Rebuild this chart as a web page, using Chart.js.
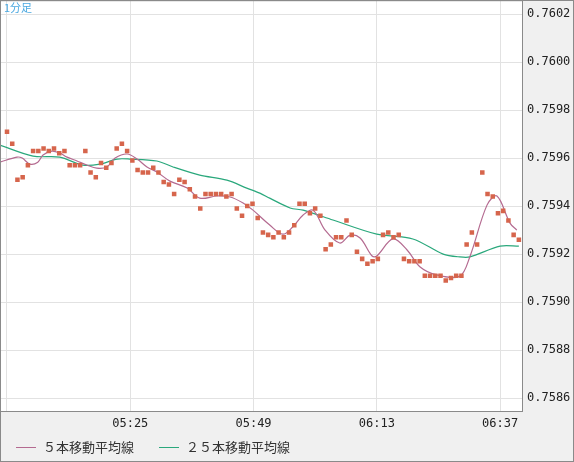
<!DOCTYPE html>
<html>
<head>
<meta charset="utf-8">
<script src="https://cdn.jsdelivr.net/npm/chart.js"></script>
<style>
  body { margin: 0; background: #f0f0f0; }
  #wrap { width: 574px; height: 462px; overflow: hidden; position: relative; }
  #c { position: absolute; left: -4px; top: -12px; }
</style>
</head>
<body>
<div id="wrap"><canvas id="c" width="578" height="474"></canvas></div>
<script>
// 1分足の終値 (05:01 から 1本ずつ)
const closes = [
  0.75971, 0.75966, 0.75951, 0.75952, 0.75957, 0.75963, 0.75963, 0.75964, 0.75963, 0.75964,
  0.75962, 0.75963, 0.75957, 0.75957, 0.75957, 0.75963, 0.75954, 0.75952, 0.75958, 0.75956,
  0.75958, 0.75964, 0.75966, 0.75963, 0.75959, 0.75955, 0.75954, 0.75954, 0.75956, 0.75954,
  0.75950, 0.75949, 0.75945, 0.75951, 0.75950, 0.75947, 0.75944, 0.75939, 0.75945, 0.75945,
  0.75945, 0.75945, 0.75944, 0.75945, 0.75939, 0.75936, 0.75940, 0.75941, 0.75935, 0.75929,
  0.75928, 0.75927, 0.75929, 0.75927, 0.75929, 0.75932, 0.75941, 0.75941, 0.75937, 0.75939,
  0.75936, 0.75922, 0.75924, 0.75927, 0.75927, 0.75934, 0.75928, 0.75921, 0.75918, 0.75916,
  0.75917, 0.75918, 0.75928, 0.75929, 0.75927, 0.75928, 0.75918, 0.75917, 0.75917, 0.75917,
  0.75911, 0.75911, 0.75911, 0.75911, 0.75909, 0.75910, 0.75911, 0.75911, 0.75924, 0.75929,
  0.75924, 0.75954, 0.75945, 0.75944, 0.75937, 0.75938, 0.75934, 0.75928, 0.75926
];

// ５本移動平均線 (読み取り点: [本数位置, 値])
const ma5 = [
  [-1.34, 0.759583], [1.9, 0.759604], [2.9, 0.759600], [4.4, 0.759575], [5.9, 0.759583],
  [6.9, 0.759613], [8.6, 0.759629], [10.1, 0.759621], [11.5, 0.759604], [13.4, 0.759588],
  [15.3, 0.759571], [17.2, 0.759558], [19.1, 0.759563], [20.7, 0.759600], [23.0, 0.759617],
  [24.9, 0.759596], [26.8, 0.759563], [28.7, 0.759542], [31.2, 0.759504], [34.5, 0.759475],
  [36.9, 0.759433], [40.2, 0.759442], [42.7, 0.759438], [45.2, 0.759413], [47.1, 0.759383],
  [50.3, 0.759321], [52.8, 0.759283], [54.7, 0.759313], [56.7, 0.759363], [58.6, 0.759383],
  [60.9, 0.759300], [63.7, 0.759246], [65.7, 0.759279], [67.6, 0.759267], [69.9, 0.759192],
  [70.8, 0.759192], [73.9, 0.759263], [76.6, 0.759217], [79.1, 0.759146], [82.3, 0.759113],
  [86.7, 0.759108], [88.6, 0.759188], [91.9, 0.759404], [93.8, 0.759442], [96.3, 0.759329],
  [97.6, 0.759300]
];

// ２５本移動平均線
const ma25 = [
  [-1.34, 0.759654], [5.0, 0.759608], [10.1, 0.759604], [14.5, 0.759571], [17.8, 0.759575],
  [21.1, 0.759596], [23.5, 0.759596], [28.7, 0.759588], [31.8, 0.759563], [36.9, 0.759529],
  [42.1, 0.759508], [45.9, 0.759475], [48.4, 0.759454], [50.3, 0.759433], [54.2, 0.759392],
  [56.7, 0.759383], [62.4, 0.759342], [70.8, 0.759283], [77.7, 0.759263], [83.5, 0.759200],
  [86.7, 0.759188], [88.6, 0.759188], [94.4, 0.759233], [98.0, 0.759233]
];

// 時間軸の目盛り
const xTickPos = [0, 23.6, 47.2, 70.8, 94.4];
const xTickLabels = ['', '05:25', '05:49', '06:13', '06:37'];
const yTicks = [0.7586, 0.7588, 0.7590, 0.7592, 0.7594, 0.7596, 0.7598, 0.7600, 0.7602];

const legendItems = [
  { text: '５本移動平均線', color: '#b46a90' },
  { text: '２５本移動平均線', color: '#2aa87c' }
];

const toPts = arr => arr.map(p => ({ x: p[0], y: p[1] }));

// canvas is shifted by (-4, -12) so the plot starts at the page corner
const OX = 4, OY = 12;

const frame = {
  id: 'frame',
  beforeDraw(chart) {
    const { ctx, chartArea: a } = chart;
    ctx.save();
    ctx.fillStyle = '#f0f0f0';
    ctx.fillRect(0, 0, chart.width, chart.height);
    ctx.fillStyle = '#ffffff';
    ctx.fillRect(a.left, a.top, a.right - a.left, a.bottom - a.top);
    ctx.restore();
  },
  afterDraw(chart) {
    const { ctx, chartArea: a } = chart;
    ctx.save();
    ctx.strokeStyle = '#8a8a8a';
    ctx.lineWidth = 1;
    ctx.strokeRect(a.left + 0.5, a.top + 0.5, a.right - a.left, a.bottom - a.top);
    ctx.strokeRect(OX + 0.5, OY + 0.5, 573, 461);
    ctx.fillStyle = '#4aa8e0';
    ctx.font = '11px "Noto Sans CJK JP"';
    ctx.textBaseline = 'top';
    ctx.fillText('1分足', a.left + 4, a.top + 2);
    // legend
    ctx.font = '13px "Noto Sans CJK JP"';
    ctx.textBaseline = 'middle';
    let x = OX + 16;
    const y = OY + 447;
    legendItems.forEach(it => {
      ctx.strokeStyle = it.color;
      ctx.beginPath();
      ctx.moveTo(x, y + 0.5);
      ctx.lineTo(x + 20, y + 0.5);
      ctx.stroke();
      ctx.fillStyle = '#333';
      ctx.fillText(it.text, x + 27, y);
      x += 27 + ctx.measureText(it.text).width + 25;
    });
    ctx.restore();
  }
};

new Chart(document.getElementById('c'), {
  type: 'scatter',
  data: {
    datasets: [
      {
        label: '終値',
        data: closes.map((v, i) => ({ x: i, y: v })),
        pointStyle: 'rect',
        pointRadius: 3.2,
        backgroundColor: '#d6654c',
        borderWidth: 0,
        order: 1
      },
      {
        type: 'line',
        label: legendItems[0].text,
        data: toPts(ma5),
        borderColor: legendItems[0].color,
        borderWidth: 1.2,
        pointRadius: 0,
        tension: 0.35,
        order: 2
      },
      {
        type: 'line',
        label: legendItems[1].text,
        data: toPts(ma25),
        borderColor: legendItems[1].color,
        borderWidth: 1.2,
        pointRadius: 0,
        tension: 0.3,
        order: 3
      }
    ]
  },
  options: {
    responsive: false,
    animation: false,
    layout: { padding: { left: 0, top: 0, right: 0, bottom: 27 } },
    plugins: { legend: { display: false }, tooltip: { enabled: false } },
    scales: {
      x: {
        type: 'linear',
        min: -1.34,
        max: 98.6,
        afterBuildTicks: s => { s.ticks = xTickPos.map(v => ({ value: v })); },
        afterFit: s => { s.height = 24; },
        grid: { color: '#e2e2e2', drawTicks: false },
        border: { display: false },
        ticks: {
          padding: 6,
          color: '#222',
          font: { family: 'DejaVu Sans Mono', size: 12 },
          callback: (v, i) => xTickLabels[i]
        }
      },
      y: {
        position: 'right',
        min: 0.758546,
        max: 0.760258,
        afterBuildTicks: s => { s.ticks = yTicks.map(v => ({ value: v })); },
        afterFit: s => { s.width = 52; },
        grid: { color: '#e2e2e2', drawTicks: false },
        border: { display: false },
        ticks: {
          padding: 5,
          color: '#222',
          font: { family: 'DejaVu Sans Mono', size: 12 },
          callback: v => v.toFixed(4)
        }
      }
    }
  },
  plugins: [frame]
});
</script>
</body>
</html>
